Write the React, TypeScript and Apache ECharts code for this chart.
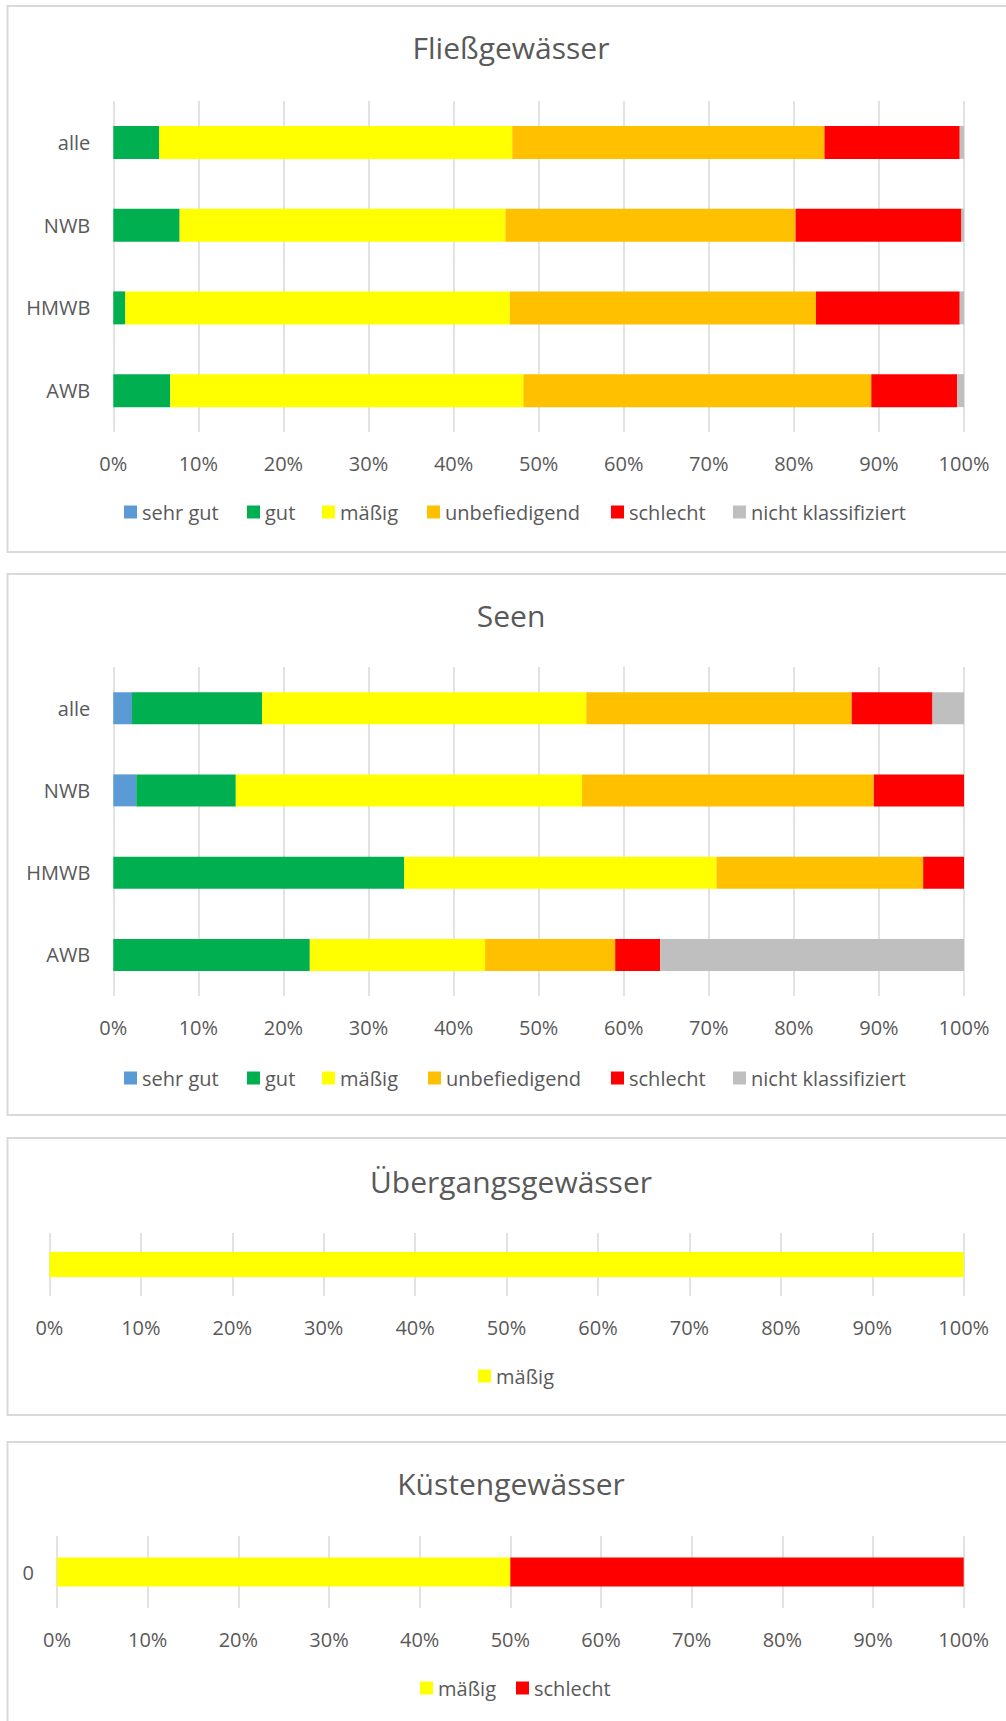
import React, { useEffect, useRef } from "react";
import * as echarts from "echarts";

// ---- data ----
const legendNames = ["sehr gut", "gut", "mäßig", "unbefiedigend", "schlecht", "nicht klassifiziert"];
const legendColors = ["#5B9BD5", "#00B050", "#FFFF00", "#FFC000", "#FF0000", "#BFBFBF"];

const fliessCategories = ["alle", "NWB", "HMWB", "AWB"];
const fliessSehrGut = [0, 0, 0, 0];
const fliessGut = [5.4, 7.8, 1.4, 6.7];
const fliessMaessig = [41.5, 38.3, 45.2, 41.5];
const fliessUnbef = [36.7, 34.1, 36.0, 40.9];
const fliessSchlecht = [15.9, 19.5, 16.9, 10.1];
const fliessNk = [0.5, 0.3, 0.5, 0.8];

const seenCategories = ["alle", "NWB", "HMWB", "AWB"];
const seenSehrGut = [2.2, 2.7, 0, 0];
const seenGut = [15.3, 11.7, 34.2, 23.1];
const seenMaessig = [38.1, 40.7, 36.7, 20.6];
const seenUnbef = [31.2, 34.3, 24.3, 15.3];
const seenSchlecht = [9.5, 10.6, 4.8, 5.3];
const seenNk = [3.7, 0, 0, 35.7];

const uebergangCategories = [""];
const uebergangMaessig = [100];

const kuesteCategories = ["0"];
const kuesteMaessig = [50];
const kuesteSchlecht = [50];

const titles = ["Fließgewässer", "Seen", "Übergangsgewässer", "Küstengewässer"];

const FONT = "'Open Sans', 'Noto Sans', sans-serif";
const TEXT = "#595959";
const GRID = "#D9D9D9";

export default function App() {
  const ref = useRef<HTMLDivElement>(null);

  useEffect(() => {
    if (!ref.current) return;
    const chart = echarts.init(ref.current, undefined, { renderer: "svg" });

    const grids = [
      { left: 113.3, right: 42, top: 101, height: 331, barW: 33, cats: fliessCategories, showCat: true },
      { left: 113.3, right: 42, top: 667, height: 329, barW: 32, cats: seenCategories, showCat: true },
      { left: 49.4, right: 42.3, top: 1233, height: 63, barW: 25, cats: uebergangCategories, showCat: false },
      { left: 57, right: 42.3, top: 1536, height: 72, barW: 29, cats: kuesteCategories, showCat: true },
    ];

    const seriesData: { name: string; idx: number; color: string; data: number[]; barW: number }[] = [];
    const add = (gi: number, names: string[], arrs: number[][]) => {
      names.forEach((n, i) => {
        seriesData.push({ name: n, idx: gi, color: legendColors[legendNames.indexOf(n)], data: arrs[i], barW: grids[gi].barW });
      });
    };
    add(0, legendNames, [fliessSehrGut, fliessGut, fliessMaessig, fliessUnbef, fliessSchlecht, fliessNk]);
    add(1, legendNames, [seenSehrGut, seenGut, seenMaessig, seenUnbef, seenSchlecht, seenNk]);
    add(2, ["mäßig"], [uebergangMaessig]);
    add(3, ["mäßig", "schlecht"], [kuesteMaessig, kuesteSchlecht]);

    const legendPos: { name: string; left: number; cy: number }[] = [
      { name: "sehr gut", left: 124, cy: 514 },
      { name: "gut", left: 247, cy: 514 },
      { name: "mäßig", left: 322, cy: 514 },
      { name: "unbefiedigend", left: 427, cy: 514 },
      { name: "schlecht", left: 611, cy: 514 },
      { name: "nicht klassifiziert", left: 733, cy: 514 },
      { name: "sehr gut", left: 124, cy: 1080 },
      { name: "gut", left: 247, cy: 1080 },
      { name: "mäßig", left: 322, cy: 1080 },
      { name: "unbefiedigend", left: 428, cy: 1080 },
      { name: "schlecht", left: 611, cy: 1080 },
      { name: "nicht klassifiziert", left: 733, cy: 1080 },
      { name: "mäßig", left: 478, cy: 1378 },
      { name: "mäßig", left: 420, cy: 1690 },
      { name: "schlecht", left: 516, cy: 1690 },
    ];

    const titleY = [47.5, 615.5, 1181, 1483.5];
    const panels = [
      [6, 552],
      [574, 1115],
      [1138, 1415],
      [1442, 1740],
    ];

    const option: any = {
      animation: false,
      backgroundColor: "#ffffff",
      grid: grids.map((g) => ({ left: g.left, right: g.right, top: g.top, height: g.height, containLabel: false })),
      xAxis: grids.map((g, i) => ({
        type: "value",
        gridIndex: i,
        min: 0,
        max: 100,
        interval: 10,
        axisLine: { show: false },
        axisTick: { show: false },
        splitLine: { show: true, lineStyle: { color: GRID, width: 1.5 } },
        axisLabel: { formatter: "{value}%", color: TEXT, fontFamily: FONT, fontSize: 20, margin: 21 },
      })),
      yAxis: grids.map((g, i) => ({
        type: "category",
        gridIndex: i,
        inverse: true,
        data: g.cats,
        axisLine: { show: false },
        axisTick: { show: false },
        axisLabel: { show: g.showCat, color: TEXT, fontFamily: FONT, fontSize: 20, margin: 23 },
      })),
      legend: legendPos.map((l) => ({
        data: [l.name],
        left: l.left,
        top: l.cy - 12,
        padding: 0,
        icon: "rect",
        itemWidth: 13,
        itemHeight: 13,
        itemGap: 0,
        selectedMode: false,
        textStyle: { color: TEXT, fontFamily: FONT, fontSize: 20 },
      })),
      series: seriesData.map((s) => ({
        type: "bar",
        name: s.name,
        stack: "s" + s.idx,
        xAxisIndex: s.idx,
        yAxisIndex: s.idx,
        barWidth: s.barW,
        data: s.data,
        itemStyle: { color: s.color },
        emphasis: { disabled: true },
      })),
      graphic: [
        ...panels.map((p) => ({
          type: "rect",
          z: -10,
          silent: true,
          shape: { x: 7.5, y: p[0], width: 1010, height: p[1] - p[0] },
          style: { fill: "none", stroke: "#D9D9D9", lineWidth: 2 },
        })),
        ...titles.map((t, i) => ({
          type: "text",
          x: 511,
          y: titleY[i],
          style: {
            text: t,
            textAlign: "center",
            textVerticalAlign: "middle",
            font: `normal 30px ${FONT}`,
            fill: TEXT,
          },
        })),
      ],
    };

    chart.setOption(option);
    return () => chart.dispose();
  }, []);

  return (
    <div
      ref={ref}
      style={{ position: "absolute", left: 0, top: 0, width: 1006, height: 1721, background: "#fff" }}
    />
  );
}
